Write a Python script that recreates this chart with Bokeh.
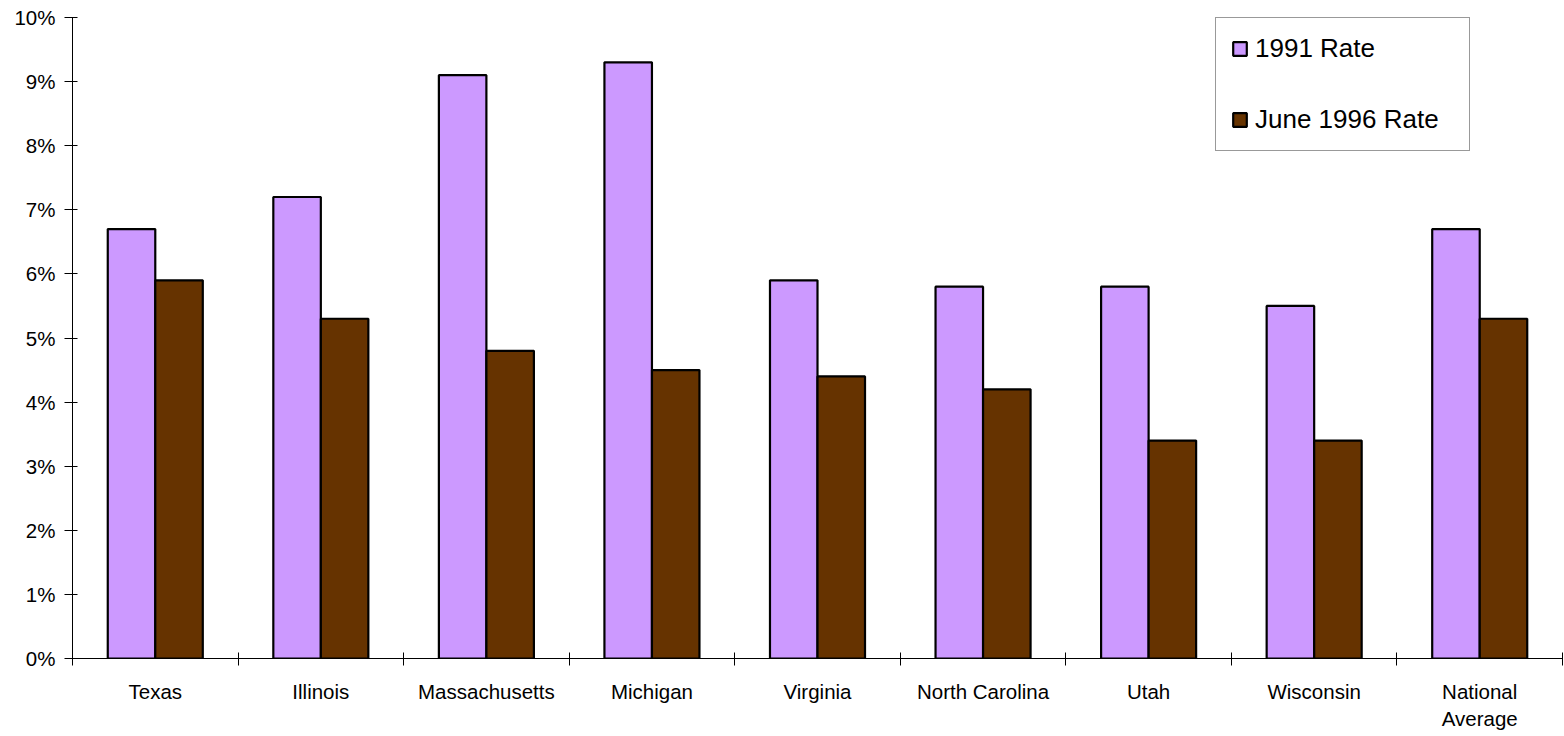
from bokeh.plotting import figure
from bokeh.models import (ColumnDataSource, FixedTicker, PrintfTickFormatter,
                          Legend, LegendItem, Range1d)
from bokeh.embed import file_html
from bokeh.resources import INLINE

categories = ["Texas", "Illinois", "Massachusetts", "Michigan", "Virginia",
              "North Carolina", "Utah", "Wisconsin", "National\nAverage"]
rate_1991 = [6.7, 7.2, 9.1, 9.3, 5.9, 5.8, 5.8, 5.5, 6.7]
rate_1996 = [5.9, 5.3, 4.8, 4.5, 4.4, 4.2, 3.4, 3.4, 5.3]
series_names = ["1991 Rate", "June 1996 Rate"]
y_ticks = [0, 1, 2, 3, 4, 5, 6, 7, 8, 9, 10]

FONT = "Liberation Sans"
BAR_W = 0.287
n = len(categories)
centers = [i + 0.5 for i in range(n)]

src = ColumnDataSource(dict(
    x1=[c - BAR_W / 2 for c in centers],
    x2=[c + BAR_W / 2 for c in centers],
    r91=rate_1991,
    r96=rate_1996,
))

p = figure(width=1564, height=736, output_backend="svg", toolbar_location=None,
           x_range=Range1d(0, n), y_range=Range1d(0, 10),
           min_border_left=72, min_border_right=2, min_border_top=17,
           min_border_bottom=78)
p.outline_line_color = None
p.xgrid.grid_line_color = None
p.ygrid.grid_line_color = None
p.background_fill_color = "white"
p.border_fill_color = "white"

b1 = p.vbar(x="x1", top="r91", bottom=0, width=BAR_W, source=src,
            fill_color="#CC99FF", line_color="black", line_width=2.2)
b2 = p.vbar(x="x2", top="r96", bottom=0, width=BAR_W, source=src,
            fill_color="#663300", line_color="black", line_width=2.2)

# y axis
ya = p.yaxis[0]
ya.ticker = FixedTicker(ticks=y_ticks, minor_ticks=[])
ya.formatter = PrintfTickFormatter(format="%d%%")
ya.major_tick_in = 5
ya.major_tick_out = 8
ya.major_label_standoff = 9
ya.major_label_text_font = FONT
ya.major_label_text_font_size = "20.5px"
ya.major_label_text_color = "black"
ya.axis_line_color = "black"
ya.major_tick_line_color = "black"

# x axis
xa = p.xaxis[0]
xa.ticker = FixedTicker(ticks=centers, minor_ticks=list(range(n + 1)))
xa.major_label_overrides = {c: lab for c, lab in zip(centers, categories)}
xa.major_tick_in = 0
xa.major_tick_out = 0
xa.minor_tick_in = 6
xa.minor_tick_out = 7
xa.minor_tick_line_color = "black"
xa.major_label_standoff = 14
xa.major_label_text_font = FONT
xa.major_label_text_font_size = "20.5px"
xa.major_label_text_color = "black"
xa.axis_line_color = "black"

legend = Legend(items=[LegendItem(label=series_names[0], renderers=[b1]),
                       LegendItem(label=series_names[1], renderers=[b2])],
                location=(1143, 507))
legend.label_text_font = FONT
legend.label_text_font_size = "26px"
legend.label_text_color = "black"
legend.glyph_width = 17
legend.glyph_height = 17
legend.label_standoff = 7
legend.label_width = 199
legend.padding = 15
legend.spacing = 40
legend.margin = 0
legend.border_line_color = "#333333"
legend.border_line_width = 1
legend.background_fill_alpha = 1
p.add_layout(legend)

open("out.html", "w").write(file_html(p, INLINE))
